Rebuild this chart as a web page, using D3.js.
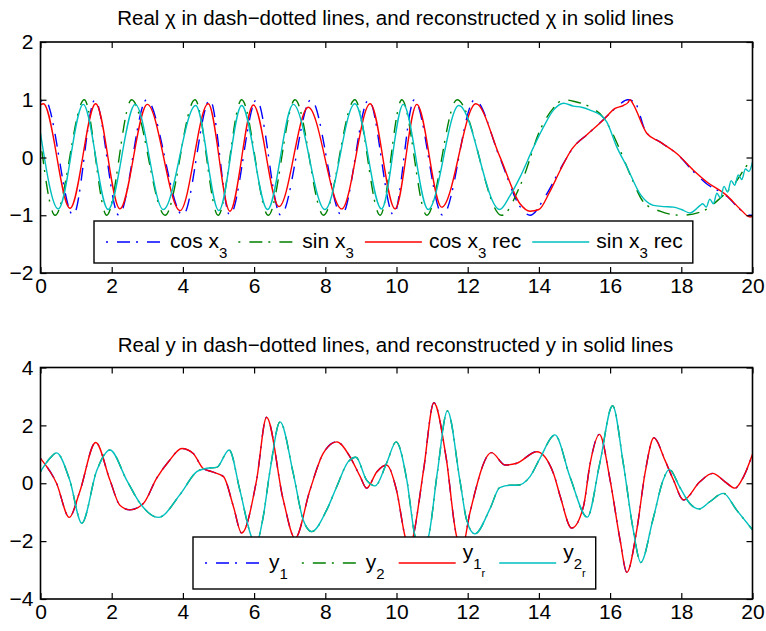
<!DOCTYPE html>
<html>
<head>
<meta charset="utf-8">
<script src="https://cdn.jsdelivr.net/npm/d3@7"></script>
<style>
  body { margin: 0; background: #fff; }
  svg { display: block; font-family: "Liberation Sans", Arial, Helvetica, sans-serif; }
  text { white-space: pre; fill: #000; }
  .axis line { stroke: #000; stroke-width: 1.2; }
  .axis text { font-size: 21px; }
  .frame { fill: none; stroke: #000; stroke-width: 1.6; }
  .curve { fill: none; stroke-width: 1.4; }
</style>
</head>
<body>
<svg id="figure" width="766" height="631"></svg>
<script>
const FIG_LEFT = 40.5;
const FIG_RIGHT = 752.5;
const TICK_LEN = 6;
const DASH_DOT = "2,9,13,6";

const TIME_TICKS = [0, 2, 4, 6, 8, 10, 12, 14, 16, 18, 20];
const CHI_TICKS = [-2, -1, 0, 1, 2];
const Y_TICKS = [-4, -2, 0, 2, 4];

// [time, value] points
const cosReal = [
  [0, 0.97], [0.12, 1], [0.92, -1], [1.53, 1], [2.2, -1], [2.98, 1], [4.0, -1],
  [4.76, 1], [5.32, -1], [6.07, 1], [6.75, -1], [7.6, 1], [8.46, -1], [9.22, 1],
  [9.92, -1], [10.5, 1], [11.3, -1], [12.2, 1], [12.9, 0.0], [13.47, -0.85],
  [13.75, -1], [14.2, -0.65], [14.6, -0.2], [15.0, 0.2], [15.4, 0.42], [15.8, 0.65],
  [16.15, 0.85], [16.5, 1.0], [16.7, 0.95], [17.0, 0.45], [17.4, 0.27], [17.9, 0.05],
  [18.35, -0.25], [18.7, -0.45], [19.3, -0.68], [19.65, -0.9], [19.95, -1.0], [20, -1.0]
];
const sinReal = [
  [0, 0.3], [0.41, -1], [1.23, 1], [1.86, -1], [2.56, 1], [3.5, -1], [4.34, 1],
  [4.99, -1], [5.65, 1], [6.4, -1], [7.15, 1], [7.95, -1], [8.83, 1], [9.54, -1],
  [10.15, 1], [10.85, -1], [11.7, 1], [12.95, -1], [13.5, -0.45], [14.05, 0.5],
  [14.4, 0.85], [14.7, 1], [15.0, 0.97], [15.45, 0.87], [15.8, 0.7], [16.0, 0.5],
  [16.3, 0.1], [16.6, -0.35], [16.95, -0.78], [17.4, -0.93], [18.0, -1], [18.6, -0.93],
  [19.1, -0.7], [19.5, -0.45], [19.9, -0.1], [20, -0.05]
];
const cosRec = [
  [0, 0.91], [0.08, 0.93], [0.83, -0.88], [1.55, 0.93], [2.23, -0.89], [3.0, 0.92],
  [3.92, -0.92], [4.71, 0.93], [5.32, -0.93], [5.98, 0.91], [6.7, -0.85], [7.52, 0.87],
  [8.46, -0.89], [9.26, 0.93], [9.96, -0.89], [10.57, 0.92], [11.27, -0.86], [12.23, 0.93],
  [12.9, 0.02], [13.47, -0.8], [13.75, -0.93], [14.0, -0.9], [14.3, -0.6], [14.6, -0.22],
  [14.93, 0.15], [15.34, 0.39], [15.81, 0.65], [16.14, 0.85], [16.37, 0.9], [16.5, 0.95],
  [16.56, 1.0], [16.65, 0.92], [17.03, 0.42], [17.4, 0.27], [17.87, 0.07], [18.34, -0.22],
  [18.71, -0.42], [19.28, -0.66], [19.65, -0.89], [19.93, -1.03], [20, -1.02]
];
const sinRec = [
  [0, 0.42], [0.5, -0.89], [1.2, 0.92], [1.9, -0.9], [2.66, 0.92], [3.45, -0.9],
  [4.36, 0.9], [5.01, -0.92], [5.65, 0.9], [6.38, -0.9], [7.1, 0.92], [7.99, -0.9],
  [8.83, 0.93], [9.58, -0.89], [10.19, 0.92], [10.89, -0.9], [11.75, 0.9], [12.9, -0.9],
  [13.19, -0.66], [13.47, -0.34], [13.85, 0.18], [14.13, 0.53], [14.41, 0.82], [14.69, 0.94],
  [14.97, 0.89], [15.2, 0.87], [15.44, 0.82], [15.72, 0.74], [15.9, 0.62], [16.19, 0.18],
  [16.47, -0.16], [16.84, -0.63], [17.22, -0.83], [17.5, -0.85], [17.78, -0.86], [18.0, -0.9],
  [18.25, -0.96], [18.53, -0.83], [18.6, -0.8], [18.7, -0.86], [18.8, -0.72], [18.9, -0.8],
  [19.0, -0.62], [19.1, -0.7], [19.2, -0.5], [19.3, -0.6], [19.4, -0.4], [19.5, -0.48],
  [19.6, -0.3], [19.7, -0.38], [19.8, -0.2], [19.9, -0.24], [20, -0.08]
];

// [time, value] points; the reconstruction sits on top of the real trace
const y1Real = [
  [0, 0.86], [0.45, 0], [0.81, -1.18], [1.1, -0.3], [1.55, 1.41], [1.95, 0.11], [2.23, -0.76],
  [2.51, -0.92], [2.89, -0.7], [3.26, 0.17], [3.6, 0.75], [3.97, 1.2], [4.29, 1.03],
  [4.57, 0.51], [4.81, 0.4], [5.14, 0.23], [5.42, -0.81], [5.65, -1.72], [6.07, 0.11],
  [6.35, 2.28], [6.82, -0.58], [7.15, -1.9], [7.57, -0.23], [7.94, 1.03], [8.32, 1.43],
  [8.69, 0.92], [8.98, 0.23], [9.16, -0.17], [9.45, 0.4], [9.72, 0.63], [10.0, -0.24],
  [10.24, -1.84], [10.36, -2.3], [10.47, -1.84], [10.76, 0.45], [11.05, 2.78], [11.39, 0.92],
  [11.69, -1.84], [11.85, -2.2], [12.06, -1.03], [12.67, 1.06], [13.05, 0.63], [13.38, 0.69],
  [13.94, 1.09], [14.41, 0.34], [14.6, -0.46], [14.92, -1.55], [15.25, -0.81], [15.44, 0.69],
  [15.7, 1.69], [16.0, 0.11], [16.28, -1.96], [16.47, -3.08], [16.75, -1.61], [16.98, 0.34],
  [17.23, 1.57], [17.54, 0.8], [17.78, 0.11], [18.06, -0.58], [18.52, 0.05], [18.88, 0.34],
  [19.23, 0.05], [19.51, -0.17], [19.75, 0.23], [20, 1.0]
];
const y2Real = [
  [0, 0.4], [0.27, 0.87], [0.45, 1.05], [0.82, 0.11], [1.16, -1.38], [1.58, 0.44], [1.95, 1.15],
  [2.42, 0.11], [2.8, -0.7], [3.31, -1.18], [3.92, -0.39], [4.39, 0.4], [4.67, 0.52],
  [4.95, 0.55], [5.3, 1.15], [5.6, -0.24], [5.93, -1.86], [6.05, -2.1], [6.25, -1.2],
  [6.45, 0.46], [6.73, 2.12], [7.1, 0.34], [7.38, -1.27], [7.62, -1.67], [8.04, -0.92],
  [8.32, -0.12], [8.64, 0.74], [8.86, 0.9], [9.16, 0.11], [9.4, -0.09], [9.72, 0.69],
  [9.99, 1.43], [10.29, 0.11], [10.52, -1.84], [10.7, -2.3], [10.9, -1.84], [11.15, 0.4],
  [11.43, 2.5], [11.78, 0.11], [11.97, -1.27], [12.2, -1.75], [12.63, -0.87], [12.9, -0.15],
  [13.2, -0.07], [13.38, -0.07], [13.75, 0.23], [14.03, 0.86], [14.45, 1.67], [14.87, 0.23],
  [15.36, -1.17], [15.71, 0.69], [16.07, 2.68], [16.37, 0.69], [16.65, -1.61], [16.86, -2.74],
  [17.2, -1.27], [17.49, 0.11], [17.66, 0.48], [17.96, -0.14], [18.24, -0.7], [18.5, -0.89],
  [18.8, -0.64], [19.18, -0.35], [19.55, -0.92], [20, -1.61]
];
const y1Rec = y1Real;
const y2Rec = y2Real;

const TOP_TITLE = "Real \u03c7 in dash\u2212dotted lines, and reconstructed \u03c7 in solid lines";
const BOTTOM_TITLE = "Real y in dash\u2212dotted lines, and reconstructed y in solid lines";

// legend labels as [text, subscript level] pieces
const TOP_LABELS = [
  [["cos x", 0], ["3", 1]],
  [["sin x", 0], ["3", 1]],
  [["cos x", 0], ["3", 1], [" rec", 0]],
  [["sin x", 0], ["3", 1], [" rec", 0]]
];
const BOTTOM_LABELS = [
  [["y", 0], ["1", 1]],
  [["y", 0], ["2", 1]],
  [["y", 0], ["1", 1], ["r", 2]],
  [["y", 0], ["2", 1], ["r", 2]]
];

const COLORS = ["#0000ff", "#008000", "#ff0000", "#00bfbf"];
const FONT_SIZES = [21, 15, 11];
const SUB_SHIFT = [0, 10, 18];


/**
 * Presenter which draws the two stacked time panels.
 */
class FigurePresenter {

  constructor(selection) {
    const self = this;
    self._svg = d3.select(selection);
  }

  renderPanel(panel, index) {
    const self = this;

    const xScale = d3.scaleLinear()
      .domain([0, 20])
      .range([FIG_LEFT, FIG_RIGHT]);
    const yScale = d3.scaleLinear()
      .domain(panel.yDomain)
      .range([panel.bottom, panel.top]);

    const group = self._svg.append("g");

    group.append("text")
      .attr("x", (FIG_LEFT + FIG_RIGHT) / 2 - 1)
      .attr("y", panel.titleY)
      .attr("text-anchor", "middle")
      .style("font-size", "20.5px")
      .text(panel.title);

    const clipId = "clip-" + index;
    group.append("clipPath")
      .attr("id", clipId)
      .append("rect")
      .attr("x", FIG_LEFT)
      .attr("y", panel.top)
      .attr("width", FIG_RIGHT - FIG_LEFT)
      .attr("height", panel.bottom - panel.top);

    const line = d3.line()
      .x(d => xScale(d[0]))
      .y(d => yScale(d[1]))
      .curve(d3.curveMonotoneX);

    group.append("g")
      .attr("clip-path", `url(#${clipId})`)
      .selectAll("path")
      .data(panel.series)
      .enter()
      .append("path")
      .attr("class", "curve")
      .attr("d", s => line(s.data))
      .attr("stroke", s => s.color)
      .attr("stroke-dasharray", s => s.dashed ? DASH_DOT : null);

    const addAxis = (axis, transform, showLabels) => {
      const g = group.append("g")
        .attr("class", "axis")
        .attr("transform", transform)
        .call(axis);
      g.select(".domain").remove();
      if (!showLabels) {
        g.selectAll("text").remove();
      }
    };

    const fmt = d3.format("d");
    addAxis(d3.axisBottom(xScale).tickValues(TIME_TICKS).tickFormat(fmt)
      .tickSizeInner(-TICK_LEN).tickSizeOuter(0).tickPadding(5),
      `translate(0,${panel.bottom})`, true);
    addAxis(d3.axisTop(xScale).tickValues(TIME_TICKS).tickSizeInner(-TICK_LEN)
      .tickSizeOuter(0), `translate(0,${panel.top})`, false);
    addAxis(d3.axisLeft(yScale).tickValues(panel.yTicks).tickFormat(fmt)
      .tickSizeInner(-TICK_LEN).tickSizeOuter(0).tickPadding(7),
      `translate(${FIG_LEFT},0)`, true);
    addAxis(d3.axisRight(yScale).tickValues(panel.yTicks).tickSizeInner(-TICK_LEN)
      .tickSizeOuter(0), `translate(${FIG_RIGHT},0)`, false);

    group.append("rect")
      .attr("class", "frame")
      .attr("x", FIG_LEFT)
      .attr("y", panel.top)
      .attr("width", FIG_RIGHT - FIG_LEFT)
      .attr("height", panel.bottom - panel.top);

    self._renderLegend(group, panel);
  }

  _renderLegend(group, panel) {
    const legend = panel.legend;
    const box = group.append("rect")
      .attr("x", legend.left)
      .attr("y", legend.top)
      .attr("height", legend.height)
      .attr("fill", "#fff")
      .attr("stroke", "#000")
      .attr("stroke-width", 1.4);

    const lineY = legend.top + legend.height / 2;
    let cursor = legend.left + 12;

    panel.series.forEach((s, i) => {
      const parts = legend.labels[i];
      const maxLevel = d3.max(parts, p => p[1]);
      group.append("line")
        .attr("x1", cursor)
        .attr("x2", cursor + legend.sampleLen)
        .attr("y1", lineY)
        .attr("y2", lineY)
        .attr("stroke", s.color)
        .attr("stroke-width", 1.4)
        .attr("stroke-dasharray", s.dashed ? DASH_DOT : null);
      cursor += legend.sampleLen + 7;

      const text = group.append("text")
        .attr("x", cursor)
        .attr("y", lineY + 6 - 10 * (maxLevel - 1));
      let level = 0;
      parts.forEach(([str, lvl]) => {
        text.append("tspan")
          .attr("dy", SUB_SHIFT[lvl] - SUB_SHIFT[level])
          .style("font-size", FONT_SIZES[lvl] + "px")
          .text(str);
        level = lvl;
      });
      cursor += text.node().getComputedTextLength() + legend.gap;
    });

    box.attr("width", cursor - legend.gap + 10 - legend.left);
  }

}

const makeSeries = (data) => data.map((d, i) => ({
  data: d,
  color: COLORS[i],
  dashed: i < 2
}));

const panels = [
  {
    top: 42, bottom: 273, titleY: 25, title: TOP_TITLE,
    yDomain: [-2, 2], yTicks: CHI_TICKS,
    series: makeSeries([cosReal, sinReal, cosRec, sinRec]),
    legend: {left: 94, top: 221, height: 42, sampleLen: 57, gap: 11, labels: TOP_LABELS}
  },
  {
    top: 367.5, bottom: 599, titleY: 352, title: BOTTOM_TITLE,
    yDomain: [-4, 4], yTicks: Y_TICKS,
    series: makeSeries([y1Real, y2Real, y1Rec, y2Rec]),
    legend: {left: 193, top: 537, height: 52, sampleLen: 57, gap: 14, labels: BOTTOM_LABELS}
  }
];

const presenter = new FigurePresenter(document.querySelector("#figure"));
panels.forEach((p, i) => presenter.renderPanel(p, i));
</script>
</body>
</html>
